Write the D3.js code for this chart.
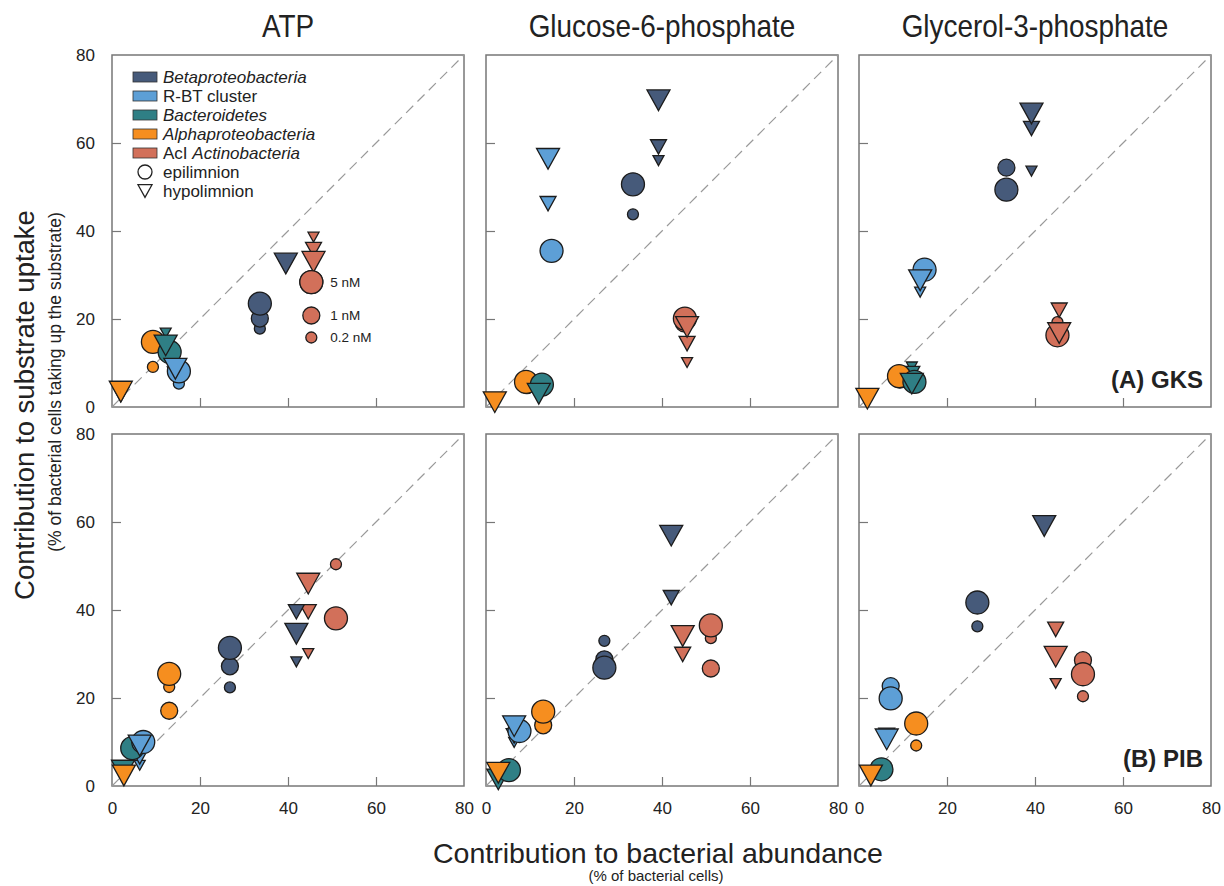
<!DOCTYPE html>
<html>
<head>
<meta charset="utf-8">
<script src="https://cdn.jsdelivr.net/npm/d3@7"></script>
<style>
  body { margin: 0; background: #fff; }
  text { font-family: "Liberation Sans", Arial, sans-serif; fill: #222; }
</style>
</head>
<body>
<script>
// groups and colours
var groups = ["Betaproteobacteria", "R-BT cluster", "Bacteroidetes", "Alphaproteobacteria", "AcI Actinobacteria"];
var groupColors = ["#465a7a", "#5d9fd6", "#2f7f85", "#f68e1f", "#d2705a"];
var concLabels = ["0.2 nM", "1 nM", "5 nM"];
var substrates = ["ATP", "Glucose-6-phosphate", "Glycerol-3-phosphate"];
var lakes = ["(A) GKS", "(B) PIB"];
var tickValues = [0, 20, 40, 60, 80];

// points: [group index, layer (e = epilimnion, h = hypolimnion), conc index, abundance %, uptake %]
var atpGKS = [
  [3, "e", 2, 9.3, 14.8], [3, "e", 0, 9.3, 9.1], [3, "h", 1, 2.0, 2.8], [3, "h", 2, 2.0, 3.5],
  [2, "h", 0, 12.2, 16.8], [2, "e", 1, 12.5, 13.0], [2, "e", 2, 13.1, 12.5], [2, "h", 2, 12.2, 14.0],
  [1, "e", 0, 15.2, 5.3], [1, "e", 2, 15.2, 8.1], [1, "h", 1, 14.4, 7.5], [1, "h", 2, 14.4, 8.7],
  [0, "e", 0, 33.6, 17.8], [0, "e", 1, 33.6, 20.1], [0, "e", 2, 33.6, 23.5], [0, "h", 1, 39.5, 32.2], [0, "h", 2, 39.5, 32.6],
  [4, "e", 2, 45.3, 28.4], [4, "h", 0, 45.8, 38.6], [4, "h", 1, 45.8, 35.8], [4, "h", 2, 45.8, 33.0]
];
var g6pGKS = [
  [0, "h", 0, 39.2, 56.0], [0, "h", 1, 39.2, 59.1], [0, "h", 2, 39.2, 69.7],
  [0, "e", 0, 33.4, 43.8], [0, "e", 1, 33.4, 50.3], [0, "e", 2, 33.4, 50.6],
  [1, "h", 1, 14.1, 46.2], [1, "h", 2, 14.1, 56.4], [1, "e", 1, 14.9, 35.3], [1, "e", 2, 14.9, 35.5],
  [4, "h", 0, 45.7, 10.1], [4, "h", 1, 45.7, 14.4], [4, "e", 1, 45.0, 19.0], [4, "e", 2, 45.2, 20.1], [4, "h", 2, 45.7, 18.2],
  [3, "e", 1, 9.3, 5.0], [3, "e", 2, 9.1, 5.7], [2, "e", 2, 12.7, 5.1], [2, "h", 2, 12.0, 3.0], [3, "h", 2, 2.0, 1.1]
];
var gly3pGKS = [
  [0, "h", 0, 39.2, 53.6], [0, "h", 1, 39.2, 63.3], [0, "h", 2, 39.2, 66.7],
  [0, "e", 1, 33.5, 54.4], [0, "e", 2, 33.5, 49.4],
  [1, "e", 2, 14.9, 31.2], [1, "h", 0, 13.9, 26.1], [1, "h", 2, 13.9, 28.8],
  [4, "h", 1, 45.5, 22.0], [4, "e", 0, 45.1, 19.3], [4, "e", 2, 45.1, 16.3], [4, "h", 2, 45.5, 16.8],
  [3, "e", 1, 9.3, 6.2], [3, "e", 2, 9.1, 7.0],
  [2, "h", 0, 12.0, 9.1], [2, "h", 1, 12.0, 7.6], [2, "e", 2, 12.6, 5.7], [2, "h", 2, 12.0, 5.3],
  [3, "h", 2, 1.9, 1.9]
];
var atpPIB = [
  [4, "e", 0, 50.9, 50.4], [4, "e", 2, 50.9, 38.1], [4, "h", 0, 44.6, 30.1], [4, "h", 1, 44.6, 39.6], [4, "h", 2, 44.6, 46.0],
  [0, "h", 0, 41.9, 28.2], [0, "h", 1, 41.9, 39.6], [0, "h", 2, 41.9, 34.6],
  [0, "e", 0, 26.8, 22.4], [0, "e", 1, 26.8, 27.2], [0, "e", 2, 26.8, 31.4],
  [3, "e", 0, 13.0, 22.5], [3, "e", 1, 13.0, 17.1], [3, "e", 2, 13.0, 25.5],
  [2, "e", 2, 4.6, 8.6], [1, "e", 2, 7.1, 10.0], [1, "h", 0, 6.3, 4.7], [1, "h", 1, 6.3, 6.6], [1, "h", 2, 6.3, 9.2],
  [2, "h", 2, 2.5, 3.5], [3, "h", 1, 2.7, 3.0], [3, "h", 2, 2.7, 2.4]
];
var g6pPIB = [
  [0, "h", 1, 42.1, 42.8], [0, "h", 2, 42.1, 56.9],
  [0, "e", 0, 26.9, 33.0], [0, "e", 1, 26.9, 28.8], [0, "e", 2, 26.9, 26.9],
  [4, "e", 0, 51.1, 33.6], [4, "e", 1, 51.1, 26.7], [4, "e", 2, 51.1, 36.5], [4, "h", 1, 44.7, 29.9], [4, "h", 2, 44.7, 34.1],
  [3, "e", 1, 13.0, 13.8], [3, "e", 2, 13.0, 16.9],
  [1, "e", 2, 7.6, 12.5], [1, "h", 0, 6.4, 9.9], [1, "h", 1, 6.4, 11.4], [1, "h", 2, 6.4, 13.6],
  [2, "h", 2, 2.8, 1.5], [2, "e", 2, 5.2, 3.6], [3, "h", 2, 2.8, 3.0]
];
var gly3pPIB = [
  [0, "h", 2, 42.1, 59.1], [0, "e", 0, 26.9, 36.3], [0, "e", 2, 26.9, 41.7],
  [4, "h", 0, 44.7, 23.3], [4, "h", 1, 44.7, 35.6], [4, "h", 2, 44.7, 29.4],
  [4, "e", 0, 50.9, 20.4], [4, "e", 1, 50.9, 28.6], [4, "e", 2, 50.9, 25.4],
  [1, "e", 1, 7.2, 22.7], [1, "e", 2, 7.2, 19.9], [1, "h", 1, 6.3, 11.5], [1, "h", 2, 6.3, 10.6],
  [3, "e", 0, 13.0, 9.2], [3, "e", 2, 13.0, 14.2],
  [2, "e", 2, 5.1, 3.8], [3, "h", 2, 2.7, 2.4]
];
var panels = [[atpGKS, g6pGKS, gly3pGKS], [atpPIB, g6pPIB, gly3pPIB]];

// layout
var W = 1224, H = 886, size = 352;
var colX = [112, 486, 859], rowY = [55, 434];
var radius = [5.5, 8.5, 11.5], triW = [11, 16, 23];

var svg = d3.select("body").append("svg").attr("width", W).attr("height", H);

var x = d3.scaleLinear().domain([0, 80]).range([0, size]);
var y = d3.scaleLinear().domain([0, 80]).range([size, 0]);

function triPath(w) {
  var h = w * 0.9;
  return "M" + (-w / 2) + "," + (-h / 2) + "L" + (w / 2) + "," + (-h / 2) + "L0," + (h / 2) + "Z";
}

function drawMarker(g, layer, conc, color) {
  var m;
  if (layer == "e") m = g.append("circle").attr("r", radius[conc]);
  else m = g.append("path").attr("d", triPath(triW[conc]));
  m.attr("fill", color).attr("stroke", "#1c1c1c").attr("stroke-width", 1.3);
  return m;
}

panels.forEach(function(row, r) {
  row.forEach(function(pts, c) {
    var g = svg.append("g").attr("transform", "translate(" + colX[c] + "," + rowY[r] + ")");

    // inward ticks
    var yAxis = d3.axisLeft(y).tickValues(tickValues).tickSize(-9).tickPadding(17).tickSizeOuter(0);
    var xAxis = d3.axisBottom(x).tickValues(tickValues).tickSize(-9).tickPadding(16).tickSizeOuter(0);
    var ya = g.append("g").call(yAxis);
    var xa = g.append("g").attr("transform", "translate(0," + size + ")").call(xAxis);
    [ya, xa].forEach(function(a) {
      a.select(".domain").remove();
      a.selectAll("line").attr("stroke", "#777").attr("stroke-width", 1.2);
      a.selectAll("text").attr("font-size", 17).attr("fill", "#222")
        .attr("font-family", "Liberation Sans, Arial, sans-serif");
    });
    if (c > 0) ya.selectAll("text").remove();
    if (r == 0) xa.selectAll("text").remove();
    xa.selectAll(".tick line").filter(function(d) { return d == 0 || d == 80; }).remove();
    ya.selectAll(".tick line").filter(function(d) { return d == 0 || d == 80; }).remove();

    // frame
    g.append("rect").attr("width", size).attr("height", size)
      .attr("fill", "none").attr("stroke", "#777").attr("stroke-width", 1.5);

    // 1:1 line
    g.append("line")
      .attr("x1", x(0)).attr("y1", y(0)).attr("x2", x(80)).attr("y2", y(80))
      .attr("stroke", "#999").attr("stroke-width", 1.2).attr("stroke-dasharray", "10,6");

    // points, small first so big ones sit on top
    var sorted = pts.map(function(p, i) { return { p: p, i: i }; })
      .sort(function(a, b) { return (a.p[2] - b.p[2]) || (a.i - b.i); });
    sorted.forEach(function(o) {
      var p = o.p;
      var m = drawMarker(g, p[1], p[2], groupColors[p[0]]);
      m.attr("transform", "translate(" + x(p[3]) + "," + y(p[4]) + ")");
    });

    if (r == 0) {
      // narrow-looking title
      svg.append("text")
        .attr("transform", "translate(" + (colX[c] + size / 2) + ",37) scale(0.9,1)")
        .attr("text-anchor", "middle").attr("font-size", 31).text(substrates[c]);
    }
    if (c == 2) {
      g.append("text").attr("x", size - 8).attr("y", size - 19)
        .attr("text-anchor", "end").attr("font-size", 24).attr("font-weight", "bold")
        .attr("fill", "#222").text(lakes[r]);
    }
  });
});

// group / layer legend in the first panel
var leg = svg.append("g").attr("transform", "translate(" + colX[0] + "," + rowY[0] + ")");
var legParts = [["", "Betaproteobacteria"], ["R-BT cluster", ""], ["", "Bacteroidetes"],
  ["", "Alphaproteobacteria"], ["AcI ", "Actinobacteria"]];
groups.forEach(function(name, i) {
  var yy = 22 + i * 19;
  leg.append("rect").attr("x", 21).attr("y", yy - 5).attr("width", 24).attr("height", 10)
    .attr("fill", groupColors[i]).attr("stroke", "#333").attr("stroke-width", 0.8);
  var t = leg.append("text").attr("x", 51).attr("y", yy + 6).attr("font-size", 17);
  if (legParts[i][0]) t.append("tspan").text(legParts[i][0]);
  if (legParts[i][1]) t.append("tspan").attr("font-style", "italic").text(legParts[i][1]);
});
[["e", "epilimnion"], ["h", "hypolimnion"]].forEach(function(d, i) {
  var yy = 22 + (5 + i) * 19;
  var m = d[0] == "e"
    ? leg.append("circle").attr("r", 7)
    : leg.append("path").attr("d", triPath(14));
  m.attr("transform", "translate(33," + yy + ")").attr("fill", "#fff")
    .attr("stroke", "#222").attr("stroke-width", 1.3);
  leg.append("text").attr("x", 51).attr("y", yy + 6).attr("font-size", 17).text(d[1]);
});

// concentration key (drawn on the AcI data column of the first panel)
var keyG = svg.append("g").attr("transform", "translate(" + colX[0] + "," + rowY[0] + ")");
var keyVals = [15.8, 20.8, 28.4];
keyVals.forEach(function(v, i) {
  drawMarker(keyG, "e", i, groupColors[4]).attr("transform", "translate(" + x(45.3) + "," + y(v) + ")");
  keyG.append("text").attr("x", x(45.3) + 19).attr("y", y(v) + 5)
    .attr("font-size", 13.5).text(concLabels[i]);
});

// axis titles
svg.append("text").attr("x", 658).attr("y", 863).attr("text-anchor", "middle")
  .attr("font-size", 28.5).text("Contribution to bacterial abundance");
svg.append("text").attr("x", 656).attr("y", 881).attr("text-anchor", "middle")
  .attr("font-size", 15).text("(% of bacterial cells)");
svg.append("text").attr("transform", "translate(34,405) rotate(-90)").attr("text-anchor", "middle")
  .attr("font-size", 27.5).text("Contribution to substrate uptake");
svg.append("text").attr("transform", "translate(61,382) rotate(-90)").attr("text-anchor", "middle")
  .attr("font-size", 17.5).text("(% of bacterial cells taking up the substrate)");
</script>
</body>
</html>
